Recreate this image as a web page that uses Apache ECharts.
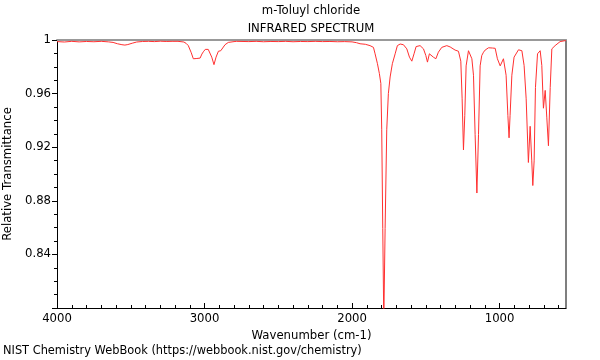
<!DOCTYPE html>
<html><head><meta charset="utf-8">
<script src="https://cdn.jsdelivr.net/npm/echarts@6/dist/echarts.min.js"></script>
<style>html,body{margin:0;padding:0;background:#fff}#c{width:600px;height:360px}</style>
</head><body><div id="c"></div>
<script>
const wavenumbers = [4000,3950,3900,3850,3800,3750,3700,3650,3620,3590,3560,3540,3520,3490,3460,3420,3380,3340,3300,3260,3220,3180,3140,3125,3110,3090,3076,3064,3052,3042,3030,3018,3008,2995,2985,2975,2967,2951,2936,2922,2906,2890,2877,2861,2839,2800,2782,
2700,2650,2600,2550,2500,2450,2400,2350,2300,2250,2200,2150,2100,2050,2000,1970,1946,1910,1878,1855,1844,1828,1815,1805,1799,1792,1785,1776,1765,1754,1742,1727,1708,1693,1674,1652,1629,1611,1595,1580,1566,1539,1516,1500,1489,1476,1464,1449,1432,1415,1392,1358,1335,1302,1279,1263,1254,1245,1236,1227,1211,1200,1188,1177,1166,1154,1143,1132,1121,1109,1098,1087,1075,1064,1048,1030,1015,996,974,956,944,936,929,917,902,872,849,834,820,805,793,782,775,766,757,743,725,714,703,691,680,669,657,646,624,590,556,550];
const transmittance = [0.9988,0.9985,0.9990,0.9986,0.9989,0.9987,0.9990,0.9986,0.9982,0.9972,0.9965,0.9962,0.9966,0.9976,0.9985,0.9989,0.9990,0.9988,0.9991,0.9989,0.9990,0.9990,0.9985,0.9975,0.9958,0.9905,0.9860,0.9853,0.9862,0.9858,0.9865,0.9895,0.9912,0.9930,0.9938,0.9930,0.9921,0.9872,0.9816,0.9872,0.9916,0.9920,0.9922,0.9965,0.9982,0.9988,0.9990,
0.9988,0.9990,0.9987,0.9989,0.9988,0.9990,0.9987,0.9989,0.9988,0.9990,0.9988,0.9989,0.9987,0.9988,0.9986,0.9980,0.9972,0.9968,0.9958,0.9945,0.9897,0.9823,0.9750,0.9676,0.9330,0.8594,0.7900,0.8594,0.9330,0.9600,0.9724,0.9823,0.9897,0.9958,0.9970,0.9965,0.9934,0.9872,0.9842,0.9897,0.9951,0.9958,0.9934,0.9884,0.9835,0.9897,0.9901,0.9872,0.9860,0.9909,0.9945,0.9958,0.9948,0.9925,0.9916,0.9842,0.9561,0.9180,0.9438,0.9807,0.9920,0.9913,0.9860,0.9737,0.9295,0.8858,0.9295,0.9807,0.9884,0.9909,0.9925,0.9934,0.9942,0.9945,0.9940,0.9938,0.9860,0.9807,0.9860,0.9737,0.9438,0.9270,0.9438,0.9737,0.9872,0.9927,0.9920,0.9810,0.9561,0.9086,0.9356,0.9098,0.8914,0.9098,0.9646,0.9897,0.9920,0.9810,0.9491,0.9624,0.9419,0.9211,0.9646,0.9934,0.9958,0.9988,0.9995,0.9995];
const xMajorTicks = [1000, 2000, 3000, 4000];
const xMinorTicks = [];
for (let v = 600; v < 4000; v += 100) { if (v % 1000 !== 0) xMinorTicks.push(v); }
const titleLines = ['m-Toluyl chloride', 'INFRARED SPECTRUM'];
const footer = 'NIST Chemistry WebBook (https://webbook.nist.gov/chemistry)';

const FONT = 'DejaVu Sans';
const txt = {fontFamily: FONT, fontSize: 11.7, color: '#000', fontWeight: 'normal'};
const chart = echarts.init(document.getElementById('c'), null, {renderer: 'canvas'});
const X0 = 550, X1 = 4000;
chart.setOption({
  animation: false,
  backgroundColor: '#fff',
  title: [
    {text: titleLines[0], left: 311, top: 5, textAlign: 'center', padding: 0, textStyle: txt},
    {text: titleLines[1], left: 311, top: 23, textAlign: 'center', padding: 0, textStyle: txt},
    {text: footer, left: 3, top: 346, padding: 0, textStyle: {...txt, fontSize: 11.4}}
  ],
  grid: {left: 57, right: 34, top: 40, bottom: 52, containLabel: false, outerBoundsMode: 'none'},
  xAxis: [
    {type: 'value', position: 'bottom', inverse: true, min: X0, max: X1,
     axisLine: {show: true, onZero: false, lineStyle: {color: '#000', width: 1}},
     axisTick: {show: true, inside: true, length: 5, customValues: xMajorTicks, lineStyle: {color: '#000'}},
     axisLabel: {customValues: xMajorTicks, margin: 5, formatter: v => String(v), ...txt},
     splitLine: {show: false},
     name: 'Wavenumber (cm-1)', nameLocation: 'middle', nameGap: 17, nameTextStyle: txt},
    {type: 'value', position: 'bottom', inverse: true, min: X0, max: X1,
     axisLine: {show: false, onZero: false},
     axisTick: {show: true, inside: true, length: 3, customValues: xMinorTicks, lineStyle: {color: '#000'}},
     axisLabel: {show: false}, splitLine: {show: false}},
    {type: 'value', position: 'top', inverse: true, min: X0, max: X1,
     axisLine: {show: true, onZero: false, lineStyle: {color: '#999', width: 2}},
     axisTick: {show: false}, axisLabel: {show: false}, splitLine: {show: false}}
  ],
  yAxis: [
    {type: 'value', position: 'left', min: 0.8, max: 1, interval: 0.04,
     axisLine: {show: true, onZero: false, lineStyle: {color: '#000', width: 1}},
     axisTick: {show: true, inside: false, length: 5, lineStyle: {color: '#000'}},
     minorTick: {show: true, splitNumber: 4, length: 3, lineStyle: {color: '#000'}},
     axisLabel: {showMinLabel: false, margin: 6, ...txt},
     splitLine: {show: false},
     name: 'Relative Transmittance', nameLocation: 'middle', nameGap: 39, nameTextStyle: txt},
    {type: 'value', position: 'right', min: 0.8, max: 1,
     axisLine: {show: true, onZero: false, lineStyle: {color: '#555', width: 1.5}},
     axisTick: {show: false}, axisLabel: {show: false}, splitLine: {show: false}}
  ],
  series: [{
    type: 'line', xAxisIndex: 0, yAxisIndex: 0, showSymbol: false, clip: true,
    lineStyle: {color: '#ff3030', width: 1},
    data: wavenumbers.map((w, i) => [w, transmittance[i]])
  }]
});
</script></body></html>
